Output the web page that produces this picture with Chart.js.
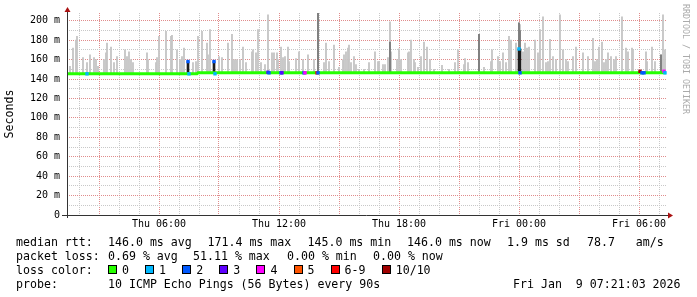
<!DOCTYPE html>
<html>
<head>
<meta charset="utf-8">
<script src="https://cdn.jsdelivr.net/npm/chart.js@4.4.1/dist/chart.umd.min.js"></script>
<style>
  body { margin: 0; background: #fff; }
  #wrap { position: relative; width: 697px; height: 297px; overflow: hidden; }
  canvas { position: absolute; left: 0; top: 0; }
  .txt { position: absolute; font-family: "DejaVu Sans Mono", monospace; font-size: 11.6px; color: #000; white-space: pre; line-height: 14px; }
  .box { position: absolute; width: 7px; height: 7px; border: 1px solid #000; }
  #mark { position: absolute; left: 681px; top: 4px; font-family: "DejaVu Sans Mono", monospace; font-size: 8.3px; color: #aaa; writing-mode: vertical-rl; white-space: pre; }
</style>
</head>
<body>
<div id="wrap">
  <canvas id="myChart" width="697" height="297"></canvas>
  <div id="mark">RRDTOOL / TOBI OETIKER</div>
</div>
<script>
// smoke spikes: time in hours since Thu 00:00, top of the smoke in ms
let spikeT = [
  1.40, 1.55, 1.70, 1.85, 1.90, 2.20, 2.40, 2.55, 2.75, 2.85, 2.95, 3.25, 3.35, 3.40, 3.60, 3.75, 3.90,
  4.30, 4.40, 4.50, 4.60, 4.70, 5.40, 5.45, 5.85, 5.90, 6.00, 6.35, 6.60, 6.65, 6.90, 7.05, 7.15, 7.25,
  7.70, 7.85, 7.95, 8.15, 8.40, 8.45, 8.55, 9.00, 9.15, 9.45, 9.65, 9.70, 9.80, 9.90, 10.05, 10.20, 10.35,
  10.65, 10.70, 10.85, 10.95, 11.10, 11.30, 11.45, 11.65, 11.75, 11.90, 11.95, 12.10, 12.20, 12.30, 12.45, 12.50,
  12.85, 13.00, 13.20, 13.45, 13.75, 13.95, 14.25, 14.35, 14.50, 14.75, 15.00, 15.20, 15.25, 15.35, 15.45, 15.50,
  15.60, 15.75, 15.85, 16.00, 16.25, 16.50, 16.80, 16.95, 17.00, 17.20, 17.30, 17.45, 17.55, 17.60, 17.90, 18.00,
  18.10, 18.45, 18.50, 18.60, 18.75, 18.80, 18.95, 19.10, 19.25, 19.40, 19.55, 19.75, 20.15, 20.50, 20.80, 20.95,
  21.25, 21.30, 21.45, 22.00, 22.25, 22.60, 22.65, 22.95, 23.05, 23.20, 23.35, 23.50, 23.60, 23.85, 24.00, 24.05,
  24.20, 24.30, 24.40, 24.50, 24.80, 24.95, 25.05, 25.20, 25.35, 25.45, 25.55, 25.70, 25.85, 26.05, 26.20, 26.35,
  26.45, 26.70, 26.85, 27.20, 27.45, 27.70, 27.80, 27.90, 28.00, 28.15, 28.25, 28.35, 28.45, 28.60, 28.75, 28.85,
  29.15, 29.35, 29.45, 29.65, 29.70, 30.35, 30.40, 30.65, 30.80, 31.10, 31.20, 31.30
];
let spikeHi = [
  160, 153, 172, 180, 184, 162, 157, 165, 162, 160, 153, 160, 167, 177, 173, 157, 163,
  170, 163, 168, 160, 157, 167, 160, 157, 162, 184, 189, 184, 185, 170, 160, 163, 172,
  157, 158, 184, 189, 177, 165, 191, 163, 162, 177, 186, 160, 160, 160, 160, 173, 157,
  168, 170, 167, 191, 157, 155, 206, 167, 167, 167, 160, 173, 162, 163, 173, 158,
  161, 168, 160, 165, 160, 208, 157, 177, 158, 175, 152, 160, 165, 168, 172, 175,
  157, 163, 155, 150, 150, 157, 168, 158, 158, 155, 155, 162, 199, 168, 160, 171,
  160, 167, 168, 180, 160, 157, 152, 163, 178, 173, 160, 150, 154, 150, 157, 170,
  155, 161, 157, 186, 152, 158, 170, 163, 158, 167, 157, 184, 180, 177, 198, 196,
  168, 177, 172, 173, 180, 167, 191, 204, 157, 158, 181, 163, 160, 206, 170, 160,
  158, 163, 173, 167, 163, 182, 158, 160, 173, 178, 157, 160, 167, 163, 160, 163,
  204, 172, 168, 172, 170, 168, 158, 173, 158, 165, 206, 170
];

// denser smoke (darker grey) and heavy smoke (black)
let midT = [13.95, 17.55, 22.00, 24.00, 24.05, 31.10];
let midHi = [208, 178, 186, 198, 190, 165];
let darkT = [7.45, 8.75, 24.00, 24.05];
let darkHi = [158, 158, 171, 171];

// median rtt
let medT = [1.40, 7.90, 7.95, 31.35];
let medMs = [145.4, 145.4, 146.4, 146.4];

// lost pings (out of 10) drawn on the median
let lossT = [2.40, 7.45, 7.50, 8.75, 8.80, 11.45, 11.50, 12.10, 12.15, 13.25, 13.30, 13.90, 13.95, 24.00, 24.05, 30.05, 30.15, 30.25, 31.25, 31.30];
let lossMs = [145.4, 158, 145.4, 158, 145.4, 147, 146.4, 146.4, 146.4, 146.4, 146.4, 146.4, 146.4, 171, 146.4, 148, 146.4, 146.4, 148, 146.4];
let lossN = [1, 2, 1, 2, 1, 3, 2, 2, 3, 2, 4, 6, 2, 1, 2, 10, 2, 2, 4, 1];

let lossLabels = ["0", "1", "2", "3", "4", "5", "6-9", "10/10"];
let lossColors = ["#26ff00", "#00b8ff", "#0059ff", "#5e00ff", "#ff00ff", "#ff5500", "#ff0000", "#a00000"];

// axis ticks: hours since Thu 00:00 and ms
let hourTicks = [];
for (let h = 2; h <= 31; h++) hourTicks.push(h);
let msTicks = [];
for (let m = 0; m <= 200; m += 10) msTicks.push(m);
let dayNames = ["Thu", "Fri"];

function lossColor(n) {
  if (n <= 5) return lossColors[n];
  if (n < 10) return lossColors[6];
  return lossColors[7];
}

function medianAt(t) {
  let v = medMs[0];
  medT.forEach((m, i) => { if (t >= m) v = medMs[i]; });
  return v;
}

function tickLabel(v) {
  let d = Math.floor(v / 24);
  let h = v % 24;
  return dayNames[d] + " " + String(h).padStart(2, "0") + ":00";
}

// legend under the chart
let wrap = document.getElementById("wrap");
function addText(x, yMid, s) {
  let el = document.createElement("div");
  el.className = "txt";
  el.style.left = x + "px";
  el.style.top = (yMid - 7) + "px";
  el.textContent = s;
  wrap.appendChild(el);
}

addText(16, 241.5, "median rtt:");
addText(108, 241.5, "146.0 ms avg");
addText(207.5, 241.5, "171.4 ms max");
addText(307.5, 241.5, "145.0 ms min");
addText(407, 241.5, "146.0 ms now");
addText(507, 241.5, "1.9 ms sd");
addText(587, 241.5, "78.7   am/s");

addText(16, 255.5, "packet loss:");
addText(108, 255.5, "0.69 % avg");
addText(193, 255.5, "51.11 % max");
addText(287, 255.5, "0.00 % min");
addText(373, 255.5, "0.00 % now");

addText(16, 269.5, "loss color:");
let bx = 108;
lossLabels.forEach((lab, i) => {
  let b = document.createElement("div");
  b.className = "box";
  b.style.left = bx + "px";
  b.style.top = "265px";
  b.style.background = lossColors[i];
  wrap.appendChild(b);
  addText(bx + 14, 269.5, lab);
  bx += 14 + lab.length * 7 + 16.1;
});

addText(16, 283.5, "probe:");
addText(108, 283.5, "10 ICMP Echo Pings (56 Bytes) every 90s");
addText(513, 283.5, "Fri Jan  9 07:21:03 2026");

// axes with arrows, as rrdtool draws them
const axesPlugin = {
  id: "axes",
  afterDatasetsDraw(chart) {
    const { ctx, chartArea: a } = chart;
    ctx.save();
    ctx.strokeStyle = "#333";
    ctx.lineWidth = 1;
    ctx.beginPath();
    ctx.moveTo(a.left - 5, a.bottom + 0.5);
    ctx.lineTo(a.right + 4, a.bottom + 0.5);
    ctx.moveTo(a.left + 0.5, a.bottom + 3);
    ctx.lineTo(a.left + 0.5, a.top - 2);
    ctx.stroke();
    ctx.fillStyle = "#a11";
    ctx.beginPath();
    ctx.moveTo(a.right + 1, a.bottom - 2.5);
    ctx.lineTo(a.right + 6, a.bottom + 0.5);
    ctx.lineTo(a.right + 1, a.bottom + 3.5);
    ctx.closePath();
    ctx.fill();
    ctx.beginPath();
    ctx.moveTo(a.left - 2.5, a.top - 1);
    ctx.lineTo(a.left + 0.5, a.top - 6);
    ctx.lineTo(a.left + 3.5, a.top - 1);
    ctx.closePath();
    ctx.fill();
    ctx.restore();
  }
};

const gridRed = "#e08c8c";
const gridGrey = "#c8c8c8";
const monoFont = "DejaVu Sans Mono";

const ctx = document.getElementById("myChart");
new Chart(ctx, {
  type: "bar",
  data: {
    datasets: [
      {
        type: "bar",
        data: spikeT.map((t, i) => ({ x: t, y: [medianAt(t), spikeHi[i]] })),
        backgroundColor: "#c6c6c6",
        barThickness: 1.2,
        grouped: false,
        order: 5
      },
      {
        type: "bar",
        data: midT.map((t, i) => ({ x: t, y: [medianAt(t), midHi[i]] })),
        backgroundColor: "#7c7c7c",
        barThickness: 1.2,
        grouped: false,
        order: 4
      },
      {
        type: "bar",
        data: darkT.map((t, i) => ({ x: t, y: [medianAt(t), darkHi[i]] })),
        backgroundColor: "#1c1c1c",
        barThickness: 2,
        grouped: false,
        order: 3
      },
      {
        type: "line",
        data: medT.map((t, i) => ({ x: t, y: medMs[i] })),
        borderColor: "#26ff00",
        borderWidth: 3,
        pointRadius: 0,
        order: 2
      },
      {
        type: "scatter",
        data: lossT.map((t, i) => ({ x: t, y: lossMs[i] })),
        pointStyle: "rect",
        pointRadius: 2.4,
        pointBorderWidth: 0,
        backgroundColor: lossN.map(n => lossColor(n)),
        order: 1
      }
    ]
  },
  options: {
    responsive: false,
    devicePixelRatio: 1,
    animation: false,
    layout: { padding: { top: 13, right: 30, left: 0, bottom: 0 } },
    plugins: { legend: { display: false }, tooltip: { enabled: false } },
    scales: {
      x: {
        type: "linear",
        min: 1.4,
        max: 31.4,
        offset: false,
        afterBuildTicks: s => { s.ticks = hourTicks.map(v => ({ value: v })); },
        ticks: {
          autoSkip: false,
          maxRotation: 0,
          padding: 3,
          color: "#000",
          font: { family: monoFont, size: 10 },
          callback: v => (v % 6 === 0 ? tickLabel(v) : "")
        },
        grid: {
          offset: false,
          drawTicks: false,
          color: c => (c.tick && c.tick.value % 3 === 0 ? gridRed : gridGrey)
        },
        border: { display: false, dash: [1, 1] },
        afterFit: s => { s.height = 82; }
      },
      y: {
        min: 0,
        max: 208,
        afterBuildTicks: s => { s.ticks = msTicks.map(v => ({ value: v })); },
        ticks: {
          autoSkip: false,
          padding: 7,
          color: "#000",
          font: { family: monoFont, size: 10 },
          callback: v => (v % 20 === 0 ? (v === 0 ? "0" : v + " m") : "")
        },
        grid: {
          drawTicks: false,
          color: c => (!c.tick || c.tick.value === 0 ? "rgba(0,0,0,0)" : (c.tick.value % 20 === 0 ? gridRed : gridGrey))
        },
        border: { display: false, dash: [1, 1] },
        title: {
          display: true,
          text: "Seconds",
          color: "#000",
          font: { family: monoFont, size: 11.6 },
          padding: { top: 3, bottom: 0 }
        },
        afterFit: s => { s.width = 67; }
      }
    }
  },
  plugins: [axesPlugin]
});
</script>
</body>
</html>
